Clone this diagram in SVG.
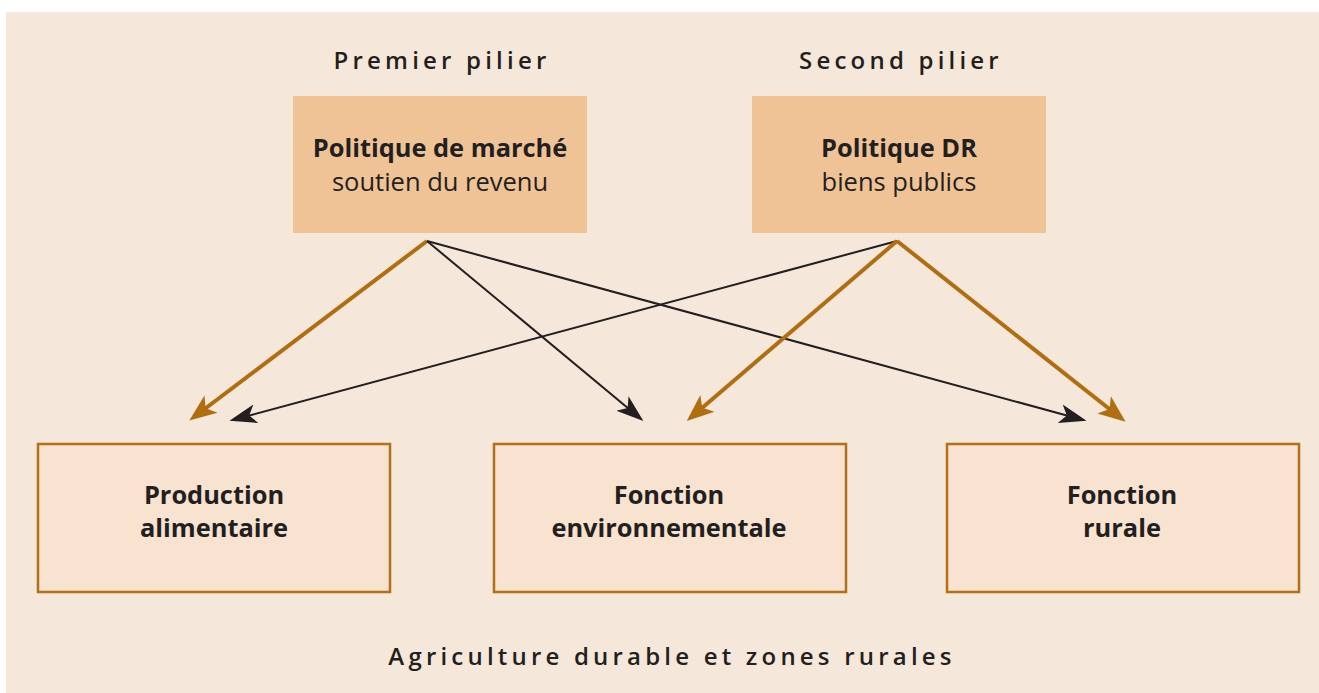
<svg xmlns="http://www.w3.org/2000/svg" width="1319" height="693" viewBox="0 0 1319 693">
<style>
.hdr{font-family:"Open Sans","Liberation Sans",sans-serif;font-size:24px;font-weight:600;letter-spacing:4.2px;fill:#231f20;text-anchor:middle}
.b{font-family:"Open Sans","Liberation Sans",sans-serif;font-size:25.4px;font-weight:700;fill:#231f20;text-anchor:middle}
.r{font-family:"Open Sans","Liberation Sans",sans-serif;font-size:25.5px;font-weight:400;fill:#231f20;text-anchor:middle}
.top{fill:#efc396}
.bot{fill:#f8e2d0;stroke:#b3701b;stroke-width:2.5}
.lb{stroke:#b06e12;stroke-width:4;fill:none}
.lk{stroke:#231f20;stroke-width:2;fill:none}
</style>
<defs>
<marker id="ab" markerUnits="userSpaceOnUse" markerWidth="30" markerHeight="30" viewBox="0 0 22 16" refX="12" refY="8" orient="auto">
<path d="M0,0 L20,8 L0,16 L5,8 Z" fill="#b06e12"/>
</marker>
<marker id="ak" markerUnits="userSpaceOnUse" markerWidth="30" markerHeight="30" viewBox="0 0 22 14" refX="12" refY="7" orient="auto">
<path d="M0,0 L20,7 L0,14 L5,7 Z" fill="#231f20"/>
</marker>
</defs>
<rect x="6" y="12" width="1313" height="681" fill="#f5e7d9"/>
<text class="hdr" x="442" y="69">Premier pilier</text>
<text class="hdr" x="901" y="69">Second pilier</text>
<g id="node-marche">
<rect class="top" x="293" y="96" width="294" height="137"/>
<text class="b" x="440" y="157">Politique de marché</text>
<text class="r" x="440" y="191">soutien du revenu</text>
</g>
<g id="node-dr">
<rect class="top" x="752" y="96" width="294" height="137"/>
<text class="b" x="899" y="157">Politique DR</text>
<text class="r" x="899" y="191">biens publics</text>
</g>
<g id="node-production">
<rect class="bot" x="38" y="444" width="352" height="148"/>
<text class="b" x="214" y="504">Production</text>
<text class="b" x="214" y="537">alimentaire</text>
</g>
<g id="node-env">
<rect class="bot" x="494" y="444" width="352" height="148"/>
<text class="b" x="669" y="504">Fonction</text>
<text class="b" x="669" y="537">environnementale</text>
</g>
<g id="node-rurale">
<rect class="bot" x="947" y="444" width="352" height="148"/>
<text class="b" x="1122" y="504">Fonction</text>
<text class="b" x="1122" y="537">rurale</text>
</g>
<g id="connectors">
<line class="lb" x1="427" y1="241" x2="198" y2="414" marker-end="url(#ab)"/>
<line class="lk" x1="427" y1="241" x2="635" y2="414" marker-end="url(#ak)"/>
<line class="lk" x1="427" y1="241" x2="1076" y2="418" marker-end="url(#ak)"/>
<line class="lk" x1="897" y1="241" x2="240" y2="418" marker-end="url(#ak)"/>
<line class="lb" x1="897" y1="241" x2="695" y2="414" marker-end="url(#ab)"/>
<line class="lb" x1="897" y1="241" x2="1117" y2="415" marker-end="url(#ab)"/>
</g>
<text class="hdr" x="672" y="665">Agriculture durable et zones rurales</text>
</svg>
